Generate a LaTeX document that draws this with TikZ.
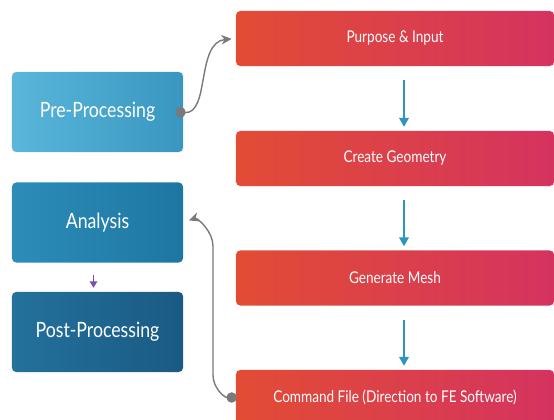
\documentclass[tikz,border=0pt]{standalone}
\usepackage{fontspec}
\setmainfont[FakeStretch=0.84]{Lato}
\usetikzlibrary{arrows.meta, positioning, calc}
\definecolor{PreTop}{HTML}{5AB6DA}
\definecolor{PreBot}{HTML}{3896C0}
\definecolor{AnaTop}{HTML}{2C8DB8}
\definecolor{AnaBot}{HTML}{1E76A2}
\definecolor{PostTop}{HTML}{23719C}
\definecolor{PostBot}{HTML}{1A5A84}
\definecolor{StepOrange}{HTML}{E24C35}
\definecolor{StepPink}{HTML}{D5335F}
\definecolor{FlowBlue}{HTML}{2E95BF}
\definecolor{LinkGray}{HTML}{7A7A7A}
\definecolor{PostPurple}{HTML}{7B4DB8}
\tikzset{
  phase/.style={rounded corners=3pt, align=center, minimum width=4.275cm, minimum height=2cm, inner sep=3pt, text=white, font=\fontsize{15}{18}\selectfont},
  stepbox/.style={rounded corners=3pt, align=center, minimum width=7.95cm, minimum height=1.375cm, inner sep=3pt, text=white, left color=StepOrange, right color=StepPink, font=\fontsize{11.5}{14}\selectfont},
  flow/.style={-{Triangle[length=2.2mm, width=2.4mm]}, line width=1pt, draw=FlowBlue},
  purplearrow/.style={-{Triangle[length=1.6mm, width=1.9mm]}, line width=1pt, draw=PostPurple},
  link/.style={{Circle[length=2.6mm]}-{Stealth[length=2.6mm, width=2.4mm]}, line width=1pt, draw=LinkGray}
}
\begin{document}
\begin{tikzpicture}[x=0.025cm, y=-0.025cm]
\useasboundingbox (0,0) rectangle (554,420);
% left column: the three phases
\node[phase, left color=PreTop, right color=PreBot] (pre) at (97.5,112) {Pre-Processing};
\node[phase, left color=AnaTop, right color=AnaBot] (ana) at (97.5,222.5) {Analysis};
\node[phase, left color=PostTop, right color=PostBot] (post) at (97.5,332) {Post-Processing};
% right column: pre-processing steps
\node[stepbox] (purpose) at (395,38.5) {Purpose \& Input};
\node[stepbox] (geom) at (395,158.5) {Create Geometry};
\node[stepbox] (mesh) at (395,278) {Generate Mesh};
\node[stepbox] (cmd) at (395,397.5) {Command File (Direction to FE Software)};
\draw[flow, shorten <=0.35cm, shorten >=0.1cm] ([xshift=0.225cm]purpose.south) -- ([xshift=0.225cm]geom.north);
\draw[flow, shorten <=0.35cm, shorten >=0.1cm] ([xshift=0.225cm]geom.south) -- ([xshift=0.225cm]mesh.north);
\draw[flow, shorten <=0.35cm, shorten >=0.1cm] ([xshift=0.225cm]mesh.south) -- ([xshift=0.225cm]cmd.north);
\draw[purplearrow, shorten <=0.3cm, shorten >=0.1cm] ([xshift=-0.1cm]ana.south) -- ([xshift=-0.1cm]post.north);
% links between the columns
\draw[link, shorten >=0.1cm] ([xshift=-0.2cm]pre.east) .. controls (210,114) and (196,42) .. (purpose.west);
\draw[link, shorten >=0.15cm] ([xshift=0.03cm]cmd.west) to[out=180, in=-90] (213,375) -- (213,246) to[out=90, in=20] (ana.east);
\end{tikzpicture}
\end{document}
